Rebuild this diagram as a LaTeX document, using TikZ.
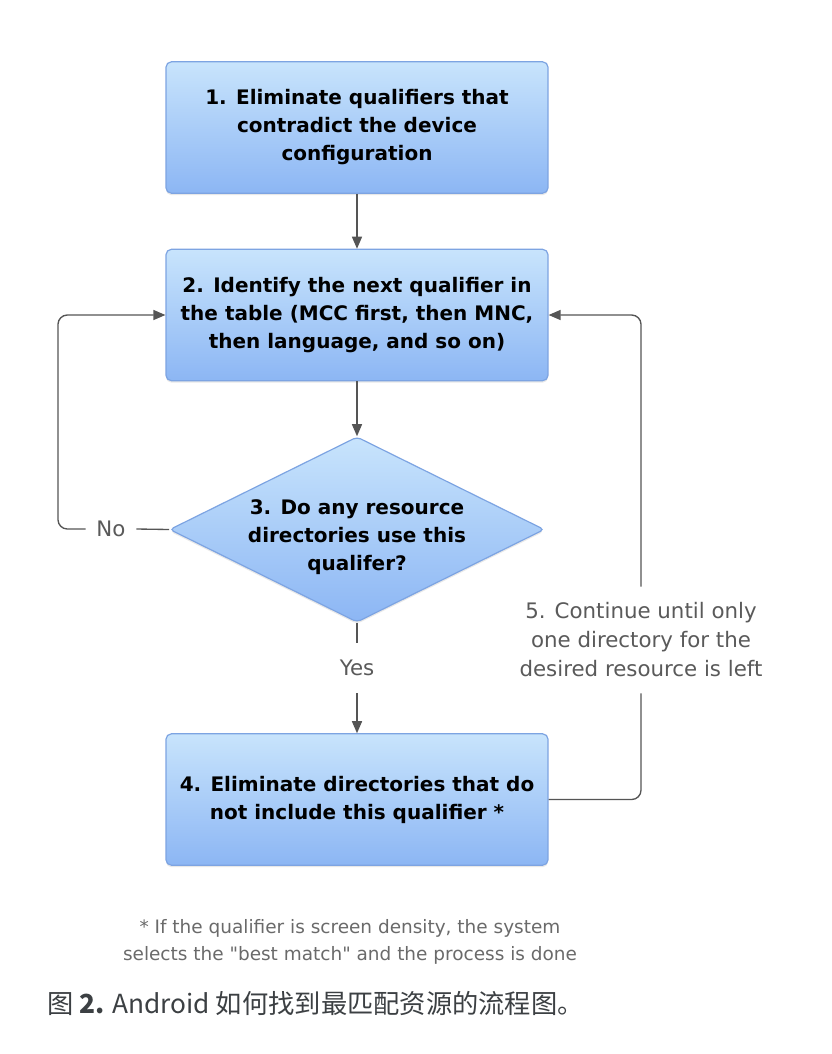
\documentclass[tikz,border=0pt]{standalone}
\usepackage{fontspec}
\setmainfont{DejaVu Sans}
\newfontfamily\notefont{DejaVu Sans}
\newfontfamily\cjk{Noto Sans CJK SC}
\usetikzlibrary{shapes.geometric,arrows.meta,shadows,calc}
\definecolor{boxtop}{HTML}{C8E4FC}
\definecolor{boxbot}{HTML}{8CB6F4}
\definecolor{boxedge}{HTML}{7DA4E2}
\definecolor{linecol}{HTML}{555555}
\definecolor{labcol}{HTML}{5A5A5A}
\definecolor{notecol}{HTML}{6A6A6A}
\definecolor{capcol}{HTML}{3C4043}
\tikzset{
  stepbox/.style={draw=boxedge, line width=0.9pt, rounded corners=4pt,
    top color=boxtop, bottom color=boxbot,
    minimum width=286.5pt, minimum height=98.5pt, inner sep=0pt,
    align=center, font=\fontsize{15}{21}\selectfont\bfseries, text=black,
    drop shadow={opacity=0.18, shadow xshift=0pt, shadow yshift=-1.5pt}},
  decision/.style={shape=diamond, draw=boxedge, line width=0.9pt, rounded corners=3pt,
    top color=boxtop, bottom color=boxbot,
    minimum width=281pt, minimum height=139pt, inner sep=0pt,
    drop shadow={opacity=0.18, shadow xshift=0pt, shadow yshift=-1.5pt}},
  lab/.style={font=\fontsize{16}{21.75}\selectfont, text=labcol, align=center},
  conn/.style={draw=linecol, line width=1pt},
  arr/.style={conn, -{Triangle[length=9pt, width=7.5pt]}},
}
\begin{document}
\begin{tikzpicture}[x=0.75pt, y=-0.75pt]
\useasboundingbox (0,0) rectangle (832,1054);
\fill[white] (0,0) rectangle (832,1054);

\node[stepbox] (b1) at (357,127.5) {1. Eliminate qualifiers that\\contradict the device\\configuration};
\node[stepbox] (b2) at (357,315) {2. Identify the next qualifier in\\the table (MCC first, then MNC,\\then language, and so on)};
\node[decision] (d) at (357,529.5) {};
\node[font=\fontsize{15}{21}\selectfont\bfseries, align=center, text=black] (dt) at (357,537) {3. Do any resource\\directories use this\\qualifer?};
\node[stepbox] (b4) at (357,799.5) {4. Eliminate directories that do\\not include this qualifier *};

\node[lab, inner sep=0pt] (no) at (111,529) {No};
\node[lab, inner sep=0pt, minimum height=37.5pt] (yes) at (357,668) {Yes};
\node[lab, inner sep=0pt, minimum height=79.5pt] (cont) at (641,640) {5. Continue until only\\one directory for the\\desired resource is left};

\coordinate (lc) at (58,315);

\draw[arr] (b1) -- (b2);
\draw[arr] (b2) -- (d);
\draw[conn] (d.south) -- (yes.north);
\draw[arr] (yes.south) -- (b4.north);
\draw[conn] (d.west) -- ($(no.east)+(8pt,0)$);
\draw[arr, rounded corners=7pt] ($(no.west)+(-8pt,0)$) -| (lc) -- (b2.west);
\draw[conn, rounded corners=7pt] (b4.east) -| (cont.south);
\draw[arr, rounded corners=7pt] (cont.north) |- (b2.east);

\node[font=\notefont\fontsize{13.85}{20.25}\selectfont, text=notecol, align=center] (note) at (350,941.5) {* If the qualifier is screen density, the system\\selects the "best match" and the process is done};

\node[anchor=west, font=\cjk\fontsize{19.7}{22}\selectfont, text=capcol, inner sep=0pt] (cap) at (47,1003) {图 \textbf{2.} Android 如何找到最匹配资源的流程图。};
\end{tikzpicture}
\end{document}
